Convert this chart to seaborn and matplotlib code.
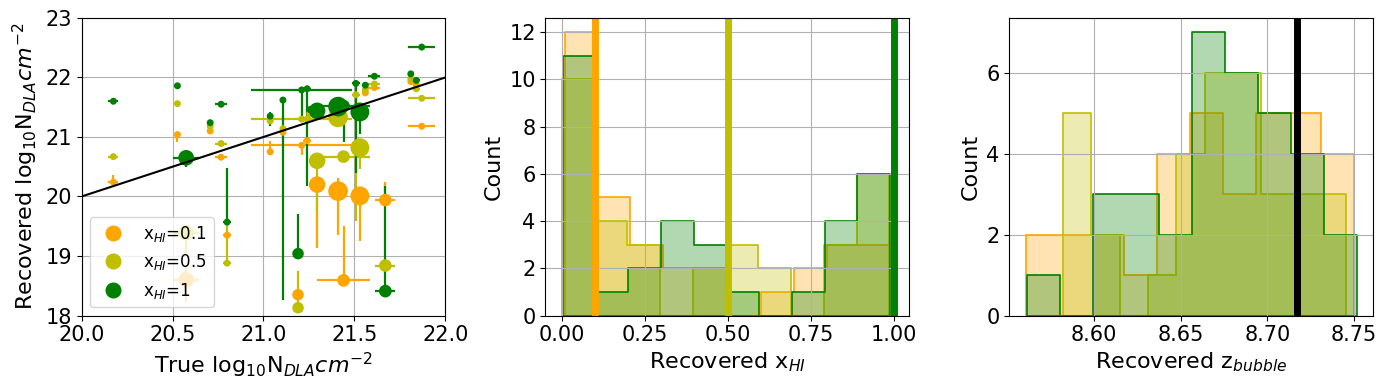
import numpy as np
import pandas as pd
import seaborn as sns
import matplotlib.pyplot as plt
from matplotlib.lines import Line2D

# ---- left panel: true vs recovered column density ----
# true log10 N_DLA of each mock (shared by the three x_HI runs)
n_true = [20.175, 20.527, 20.575, 20.707, 20.767, 20.800, 21.037, 21.107, 21.190, 21.210, 21.240, 21.255,
          21.295, 21.410, 21.440, 21.508, 21.530, 21.560, 21.610, 21.670, 21.810, 21.840, 21.870]
n_true_err = [0.028, 0.0, 0.073, 0.0, 0.033, 0.02, 0.0, 0.0, 0.02, 0.277, 0.02, 0.0,
              0.0, 0.0, 0.147, 0.02, 0.0, 0.0, 0.033, 0.055, 0.0, 0.02, 0.073]
weight = [7, 7, 14, 7, 7, 7, 7, 7, 10, 7, 7, 7, 15, 19, 11, 7, 18, 7, 7, 11, 7, 7, 7]

n_rec_01 = [20.24, 21.04, 18.60, 21.10, 20.66, 19.35, 20.75, 21.08, 18.35, 20.86, 20.94, 21.40,
            20.20, 20.09, 18.59, 21.35, 20.01, 21.74, 21.83, 19.94, 21.93, 21.88, 21.18]
n_lo_01 = [0, .12, .37, 0, 0, 0, 0, 0, 0, .16, 0, .05, 1.06, .73, 0, 0, .75, 0, 0, .05, 0, 0, 0]
n_hi_01 = [.12, 0, .25, 0, 0, 0, .19, .05, 0, 0, 0, .05, 0, .22, .91, .05, 0, 0, 0, .31, 0, 0, 0]

n_rec_05 = [20.67, 21.56, 19.39, 21.18, 20.89, 18.88, 21.27, 21.14, 18.13, 21.30, 21.30, 21.38,
            20.60, 21.33, 20.67, 21.71, 20.82, 21.79, 21.89, 18.84, 21.98, 21.81, 21.65]
n_lo_05 = [0, 0, .37, 0, 0, 0, 0, 0, 0, 0, 0, 0, .85, .1, 0, 2.13, .36, 0, 0, 0, 0, 0, 0]
n_hi_05 = [0, 0, 0, 0, 0, .67, 0, 0, .62, 0, 0, 0, 0, 0, 0, 0, .1, 0, 0, 0, 0, 0, 0]

n_rec_1 = [21.60, 21.86, 20.65, 21.24, 21.55, 19.57, 21.35, 21.62, 19.04, 21.79, 21.81, 21.46,
           21.44, 21.51, 21.52, 21.90, 21.42, 21.87, 22.02, 18.41, 22.06, 21.95, 22.51]
n_lo_1 = [0, 0, .15, 0, 0, .05, .17, 3.36, 0, .54, 1.63, 0, .05, .05, .6, 1.5, .37, 0, 0, 0, 0, .1, 0]
n_hi_1 = [0, 0, .05, 0, 0, .91, .07, 0, .66, 0, 0, 0, 0, 0, 0, 0, 0, 0, 0, 1.77, 0, 0, 0]

# ---- middle panel: recovered neutral fraction (10 bins per run) ----
xhi_true = [0.1, 0.5, 1.0]
xhi_counts_01 = [12, 5, 3, 2, 2, 0, 1, 2, 3, 3]
xhi_counts_05 = [10, 4, 3, 0, 2, 3, 2, 0, 3, 6]
xhi_counts_1 = [11, 1, 2, 4, 3, 1, 0, 1, 4, 6]
xhi_range_01 = (0.008, 0.993)
xhi_range_05 = (0.0, 0.985)
xhi_range_1 = (0.002, 0.987)

# ---- right panel: recovered bubble redshift ----
zb_true = 8.717
zb_counts_01 = [2, 2, 2, 1, 4, 5, 3, 5, 5, 4]
zb_counts_05 = [5, 2, 0, 1, 4, 6, 6, 3, 3, 3]
zb_counts_1 = [1, 0, 3, 3, 2, 7, 6, 5, 4, 2]
zb_range_01 = (8.5607, 8.7500)
zb_range_05 = (8.5822, 8.7454)
zb_range_1 = (8.5615, 8.7514)

labels = ['0.1', '0.5', '1']
colors = ['orange', 'y', 'green']

plt.rcParams['font.size'] = 15

fig, axes = plt.subplots(1, 3, figsize=(13.87, 3.9), dpi=100)
fig.subplots_adjust(left=0.0588, right=0.990, top=0.954, bottom=0.191, wspace=0.275)

# left
ax = axes[0]
runs = [(n_rec_01, n_lo_01, n_hi_01), (n_rec_05, n_lo_05, n_hi_05), (n_rec_1, n_lo_1, n_hi_1)]
frames = []
for lab, c, (y, lo, hi) in zip(labels, colors, runs):
    ax.errorbar(n_true, y, xerr=n_true_err, yerr=[lo, hi], fmt='none', ecolor=c, elinewidth=1.6, capsize=0, zorder=2)
    frames.append(pd.DataFrame({'true': n_true, 'rec': y, 'w': weight, 'run': lab}))
df = pd.concat(frames)
sns.scatterplot(data=df, x='true', y='rec', hue='run', size='w', palette=dict(zip(labels, colors)),
                sizes=(25, 200), size_norm=(7, 19), linewidth=0, alpha=1, legend=False, ax=ax, zorder=3)
lims = [20, 22]
ax.plot(lims, lims, color='k', lw=1.5, zorder=4)
ax.set_xlim(20, 22)
ax.set_ylim(18, 23)
ax.set_xticks([20.0, 20.5, 21.0, 21.5, 22.0])
ax.set_xlabel(r'True log$_{10}$N$_{DLA} cm^{-2}$', fontsize=16)
ax.set_ylabel(r'Recovered log$_{10}$N$_{DLA} cm^{-2}$', fontsize=16)
ax.grid(True)
handles = [Line2D([], [], marker='o', ls='none', color=c, markersize=10.5) for c in colors]
ax.legend(handles, [r'x$_{HI}$=' + l for l in labels], loc='lower left', fontsize=12)


def step_hist(ax, counts, rng, color):
    edges = np.linspace(rng[0], rng[1], len(counts) + 1)
    centers = 0.5 * (edges[:-1] + edges[1:])
    sns.histplot(x=centers, weights=counts, bins=len(counts), binrange=rng, element='step',
                 color=color, alpha=0.3, linewidth=1.2, ax=ax)


# middle
ax = axes[1]
for counts, rng, c in zip([xhi_counts_01, xhi_counts_05, xhi_counts_1],
                          [xhi_range_01, xhi_range_05, xhi_range_1], colors):
    step_hist(ax, counts, rng, c)
for v, c in zip(xhi_true, colors):
    ax.axvline(v, color=c, lw=5)
ax.set_xlim(-0.05, 1.045)
ax.set_xticks([0, 0.25, 0.5, 0.75, 1.0])
ax.set_xlabel(r'Recovered x$_{HI}$', fontsize=16)
ax.set_ylabel('Count', fontsize=16)
ax.grid(True)

# right
ax = axes[2]
for counts, rng, c in zip([zb_counts_01, zb_counts_05, zb_counts_1],
                          [zb_range_01, zb_range_05, zb_range_1], colors):
    step_hist(ax, counts, rng, c)
ax.axvline(zb_true, color='k', lw=5)
ax.set_xticks([8.60, 8.65, 8.70, 8.75])
ax.set_xlabel(r'Recovered z$_{bubble}$', fontsize=16)
ax.set_ylabel('Count', fontsize=16)
ax.grid(True)

fig.savefig('out.png', dpi=100)
